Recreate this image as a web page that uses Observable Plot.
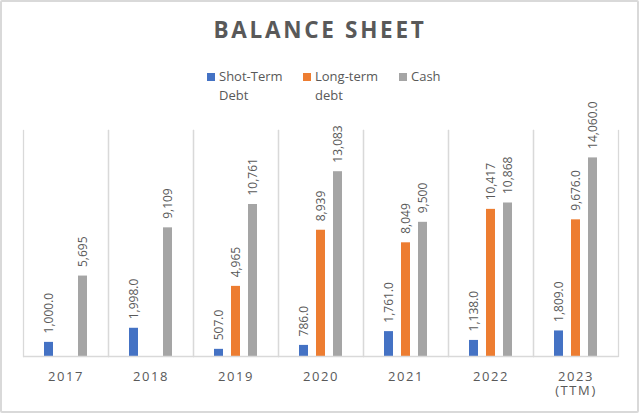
<!DOCTYPE html>
<html>
<head>
<meta charset="utf-8">
<script src="https://cdn.jsdelivr.net/npm/d3@7"></script>
<script src="https://cdn.jsdelivr.net/npm/@observablehq/plot@0.6"></script>
<style>
  html, body { margin: 0; padding: 0; background: #fff; }
  #wrap { position: relative; width: 640px; height: 414px; overflow: hidden; font-family: "Open Sans", sans-serif; }
  #border { position: absolute; left: 0; top: 0; width: 639px; height: 413px; box-sizing: border-box; border: 2px solid #d9d9d9; border-radius: 2px; }
  #title { position: absolute; left: 0; top: 18.5px; width: 640px; text-align: center; font-size: 22.5px; line-height: 22px; font-weight: 700; letter-spacing: 2.7px; color: #595959; }
  #legend { position: absolute; left: 207px; top: 66.5px; display: flex; font-size: 13px; line-height: 19px; color: #595959; }
  .item { display: flex; align-items: flex-start; width: 96px; }
  .item:last-child { width: auto; }
  .sw { width: 7.5px; height: 7.5px; margin-top: 6.5px; margin-right: 4.5px; flex: none; }
  .lab { max-width: 72px; }
  #chart { position: absolute; left: 0; top: 0; }
  #chart [aria-label="fx-axis tick label"] text { letter-spacing: 1.6px; }
</style>
</head>
<body>
<div id="wrap">
  <div id="border"></div>
  <div id="chart"></div>
  <div id="title"></div>
  <div id="legend"></div>
</div>
<script>
// ---- data ----
const title = "BALANCE SHEET";
const years = ["2017", "2018", "2019", "2020", "2021", "2022", "2023 (TTM)"];
const yearLabels = ["2017", "2018", "2019", "2020", "2021", "2022", "2023\n(TTM)"];
const series = ["Shot-Term Debt", "Long-term debt", "Cash"];
const shortTermDebt = [1000, 1998, 507, 786, 1761, 1138, 1809];
const longTermDebt = [null, null, 4965, 8939, 8049, 10417, 9676];
const cash = [5695, 9109, 10761, 13083, 9500, 10868, 14060];
const shortTermLabels = ["1,000.0", "1,998.0", "507.0", "786.0", "1,761.0", "1,138.0", "1,809.0"];
const longTermLabels = [null, null, "4,965", "8,939", "8,049", "10,417", "9,676.0"];
const cashLabels = ["5,695", "9,109", "10,761", "13,083", "9,500", "10,868", "14,060.0"];
const colors = ["#4472C4", "#ED7D31", "#A5A5A5"];

// ---- build table ----
const valuesBySeries = [shortTermDebt, longTermDebt, cash];
const labelsBySeries = [shortTermLabels, longTermLabels, cashLabels];
const rows = [];
years.forEach((y, i) => {
  series.forEach((s, j) => {
    const v = valuesBySeries[j][i];
    if (v != null) rows.push({year: y, series: s, value: v, label: labelsBySeries[j][i]});
  });
});
const yearLabelOf = new Map(years.map((y, i) => [y, yearLabels[i]]));

// ---- title & legend ----
document.getElementById("title").textContent = title;
const legend = document.getElementById("legend");
series.forEach((s, j) => {
  const item = document.createElement("div");
  item.className = "item";
  const sw = document.createElement("div");
  sw.className = "sw";
  sw.style.background = colors[j];
  const lab = document.createElement("div");
  lab.className = "lab";
  lab.textContent = s;
  item.append(sw, lab);
  legend.append(item);
});

// ---- chart ----
const gridColor = "#d9d9d9";
const chart = Plot.plot({
  width: 640,
  height: 414,
  marginTop: 130,
  marginBottom: 58,
  marginLeft: 21,
  marginRight: 19.5,
  style: {fontFamily: "Open Sans", color: "#595959", background: "transparent", overflow: "visible"},
  fx: {domain: years, padding: 0},
  x: {domain: series, paddingInner: 0.467, paddingOuter: 1.187, axis: null},
  y: {domain: [0, 16000], axis: null},
  color: {domain: series, range: colors},
  marks: [
    Plot.frame({anchor: "left", stroke: gridColor, strokeWidth: 1.3}),
    Plot.frame({anchor: "right", stroke: gridColor, strokeWidth: 1.3}),
    Plot.barY(rows, {fx: "year", x: "series", y: "value", fill: "series"}),
    Plot.ruleY([0], {stroke: gridColor, strokeWidth: 1.3}),
    Plot.text(rows, {
      fx: "year", x: "series", y: "value", text: "label",
      rotate: -90, textAnchor: "start", lineAnchor: "middle",
      dy: -9, fontSize: 12, fill: "#595959"
    }),
    Plot.axisFx({
      anchor: "bottom", tickSize: 0, tickPadding: 14, fontSize: 13,
      lineHeight: 1.12, label: null, tickFormat: d => yearLabelOf.get(d), color: "#595959"
    })
  ]
});
document.getElementById("chart").append(chart);
</script>
</body>
</html>
